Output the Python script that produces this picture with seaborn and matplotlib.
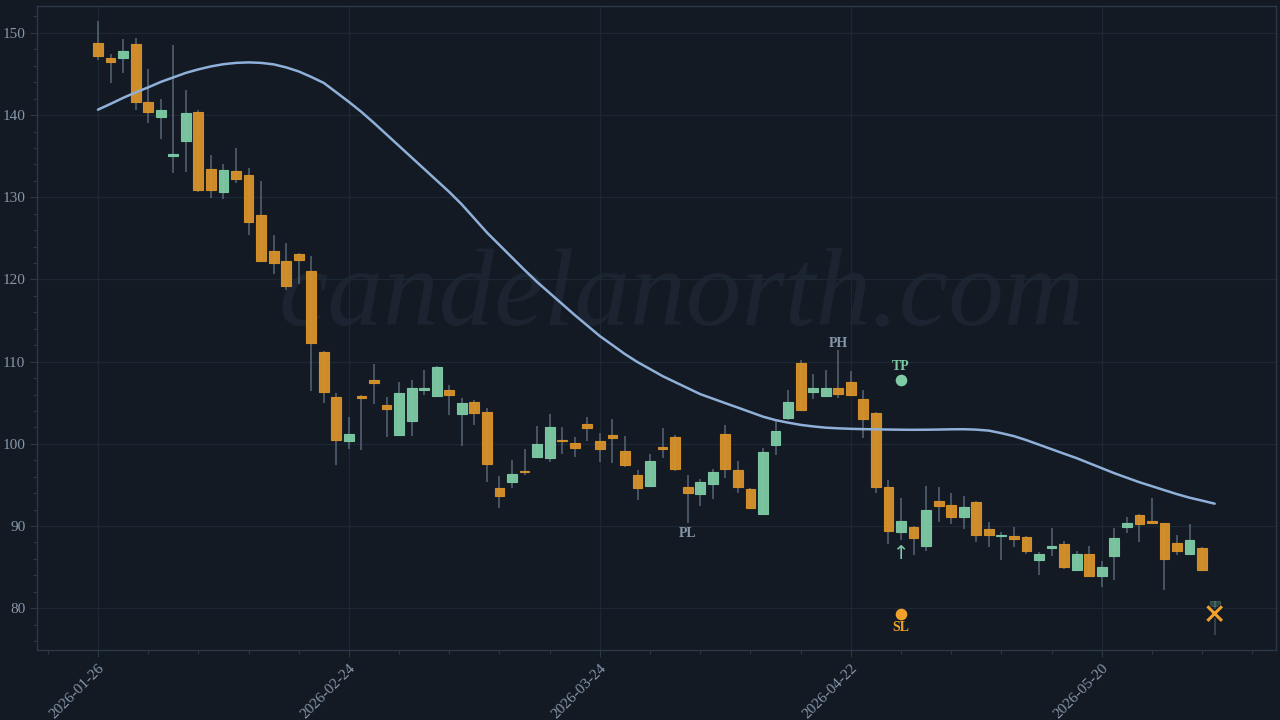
import numpy as np
import pandas as pd
import matplotlib
matplotlib.use("Agg")
import matplotlib.pyplot as plt
import matplotlib.patheffects as pe
import seaborn as sns
from matplotlib.ticker import MultipleLocator, FixedLocator

# candles, one per trading day (index 0 = 2026-01-26)
opens = [148.75, 147.0, 146.92, 148.66, 141.6, 139.81, 134.99, 136.89, 140.35, 133.44,
         130.68, 133.24, 132.75, 127.81, 123.5, 122.24, 123.13, 121.03, 111.13, 105.72,
         100.33, 105.81, 107.72, 104.68, 101.06, 102.73, 106.58, 105.81, 106.58, 103.65,
         105.08, 103.86, 94.57, 95.34, 96.68, 98.42, 98.22, 100.49, 100.12, 102.44,
         100.37, 101.1, 99.11, 96.27, 94.85, 99.56, 100.85, 94.69, 93.84, 95.09,
         101.15, 96.8, 94.52, 91.44, 99.84, 103.09, 109.79, 106.29, 105.77, 106.78,
         107.55, 105.41, 103.78, 94.76, 89.33, 89.9, 87.63, 93.02, 92.5, 91.08,
         92.94, 89.58, 88.8, 88.8, 88.64, 85.93, 87.3, 87.79, 84.71, 86.66,
         83.93, 86.36, 89.9, 91.4, 90.59, 90.31, 87.95, 86.66, 87.34, 80.28]
highs = [151.46, 147.41, 149.27, 149.43, 145.58, 141.96, 148.54, 143.06, 140.63, 135.15,
         134.05, 135.96, 133.53, 131.98, 125.41, 124.4, 123.2, 122.85, 111.3, 106.14,
         103.21, 105.93, 109.7, 105.69, 107.51, 107.76, 108.98, 109.5, 107.11, 105.53,
         105.32, 104.35, 96.07, 97.98, 99.35, 102.12, 103.62, 102.03, 100.82, 103.29,
         101.27, 103.0, 100.94, 96.8, 98.71, 101.88, 101.06, 96.19, 95.67, 96.92,
         102.24, 97.89, 94.6, 99.51, 102.89, 106.54, 110.19, 108.45, 108.98, 111.44,
         108.85, 106.54, 103.9, 95.58, 93.39, 89.98, 94.85, 94.76, 93.96, 93.63,
         93.0, 90.5, 89.29, 89.9, 88.75, 86.82, 89.82, 88.15, 86.97, 87.55,
         85.72, 89.82, 91.11, 91.5, 93.43, 90.4, 88.89, 90.22, 87.45, 80.9]
lows = [146.7, 143.88, 145.13, 140.63, 139.08, 137.1, 132.99, 133.04, 130.68, 129.88,
        129.79, 131.78, 125.41, 122.1, 120.7, 118.71, 119.48, 106.42, 104.92, 97.41,
        99.35, 99.23, 104.83, 100.78, 100.97, 100.97, 105.93, 105.72, 103.49, 99.76,
        102.31, 95.37, 92.21, 94.64, 96.22, 98.34, 97.81, 98.75, 98.34, 100.33,
        97.81, 97.69, 97.16, 93.15, 94.8, 98.22, 96.71, 90.38, 92.41, 93.35,
        95.79, 93.96, 92.1, 91.36, 98.62, 102.89, 104.0, 105.48, 105.7, 105.6,
        105.8, 100.73, 93.96, 87.79, 88.36, 86.45, 86.94, 90.47, 90.22, 89.7,
        88.0, 87.46, 85.84, 87.39, 86.66, 84.02, 86.33, 84.83, 84.62, 83.9,
        82.59, 83.41, 89.17, 88.07, 90.31, 82.19, 86.45, 86.45, 84.54, 76.7]
closes = [147.24, 146.47, 147.81, 141.56, 140.35, 140.59, 135.31, 140.22, 130.89, 130.89,
          133.32, 132.19, 126.99, 122.28, 122.0, 119.2, 122.4, 112.26, 106.33, 100.45,
          101.18, 105.53, 107.43, 104.26, 106.21, 106.74, 106.78, 109.37, 105.89, 104.96,
          103.78, 97.53, 93.6, 96.31, 96.52, 99.96, 102.07, 100.33, 99.44, 101.88,
          99.39, 100.73, 97.41, 94.64, 97.86, 99.32, 96.92, 94.08, 95.34, 96.52,
          97.0, 94.69, 92.17, 99.03, 101.51, 105.08, 104.07, 106.74, 106.78, 106.05,
          105.89, 103.04, 94.76, 89.37, 90.67, 88.52, 91.93, 92.45, 91.04, 92.33,
          88.85, 88.85, 88.97, 88.44, 86.97, 86.66, 87.55, 85.03, 86.66, 83.98,
          85.03, 88.52, 90.31, 90.22, 90.38, 86.0, 86.97, 88.36, 84.71, 80.85]

# smoothed trend line
trend = [140.66, 141.36, 142.09, 142.76, 143.37, 144.03, 144.58, 145.13, 145.56, 145.92,
         146.19, 146.35, 146.41, 146.35, 146.17, 145.8, 145.31, 144.64, 143.91, 142.76,
         141.6, 140.38, 139.04, 137.64, 136.24, 134.84, 133.44, 132.04, 130.64, 129.12,
         127.42, 125.71, 124.19, 122.67, 121.15, 119.69, 118.35, 117.01, 115.67, 114.39,
         113.11, 112.02, 110.92, 109.95, 109.1, 108.24, 107.51, 106.78, 106.05, 105.5,
         104.95, 104.41, 103.86, 103.31, 102.89, 102.58, 102.31, 102.12, 101.97, 101.89,
         101.83, 101.79, 101.77, 101.74, 101.72, 101.71, 101.72, 101.74, 101.77, 101.78,
         101.73, 101.61, 101.3, 100.94, 100.45, 99.9, 99.35, 98.8, 98.26, 97.65,
         97.04, 96.43, 95.88, 95.33, 94.85, 94.36, 93.88, 93.45, 93.09, 92.72]

tick_pos = [0, 20, 40, 60, 80]
tick_labels = ["2026-01-26", "2026-02-24", "2026-03-24", "2026-04-22", "2026-05-20"]

# trade markers
pivot_high_idx, pivot_low_idx = 59, 47
entry_idx, exit_idx = 64, 89
tp_price, sl_price = 107.76, 79.35

BG = "#131a24"
GRID = "#1c2934"
SPINE = "#2a3847"
TXT = "#8797aa"
UP = "#7ecba5"
DOWN = "#d8922a"
WICK = "#5d6d7e"
MARK = "#f0a12c"
LINE = "#8fb0d8"

sns.set_theme(style="dark", rc={
    "axes.facecolor": BG, "figure.facecolor": BG,
    "axes.edgecolor": SPINE, "grid.color": GRID,
    "xtick.color": SPINE, "ytick.color": SPINE,
    "xtick.labelcolor": TXT, "ytick.labelcolor": TXT,
})
plt.rcParams["font.family"] = ["Liberation Serif", "DejaVu Sans"]

df = pd.DataFrame({"open": opens, "high": highs, "low": lows, "close": closes, "trend": trend})
df["idx"] = np.arange(len(df))

fig = plt.figure(figsize=(12.8, 7.2), dpi=100)
ax = fig.add_axes([0.029, 0.097, 0.968, 0.895])

ax.text(0.52, 0.505, "candelanorth.com", transform=ax.transAxes, ha="center", va="baseline",
        fontsize=80, style="italic", color="#1b2430", zorder=0)

ax.grid(True, color=GRID, linewidth=0.9, zorder=0)

last = len(df) - 1
for i, r in df.iterrows():
    up = r["close"] >= r["open"]
    col = UP if up else DOWN
    a = 0.25 if i == last else 0.95
    ax.vlines(r["idx"], r["low"], r["high"], color=WICK, linewidth=1.1, alpha=0.9 if i != last else 0.6, zorder=2)
    lo, hi = min(r["open"], r["close"]), max(r["open"], r["close"])
    ax.bar(r["idx"], max(hi - lo, 0.12), bottom=lo, width=0.78, color=col, alpha=a,
           edgecolor=col, linewidth=0.8, zorder=3)

sns.lineplot(data=df, x="idx", y="trend", ax=ax, color=LINE, linewidth=1.8, zorder=4, legend=False)

# annotations
ax.text(pivot_high_idx, highs[pivot_high_idx] + 0.3, "PH", ha="center", va="baseline",
        color=TXT, fontsize=10, fontweight="bold")
ax.text(pivot_low_idx, lows[pivot_low_idx] - 0.5, "PL", ha="center", va="top",
        color=TXT, fontsize=10, fontweight="bold")
ax.scatter([entry_idx], [tp_price], s=70, color=UP, zorder=5, linewidths=0)
ax.text(entry_idx, tp_price + 0.9, "TP", ha="center", va="bottom", color=UP, fontsize=10, fontweight="bold")
ax.scatter([entry_idx], [sl_price], s=70, color=MARK, zorder=5, linewidths=0)
ax.text(entry_idx, sl_price - 0.9, "SL", ha="center", va="top", color=MARK, fontsize=10, fontweight="bold")
ax.text(entry_idx, lows[entry_idx] - 0.6, "\u2191", ha="center", va="top", color=UP, fontsize=14,
        family="DejaVu Sans")
ax.scatter([exit_idx], [sl_price], s=110, marker="x", color=MARK, linewidths=2.2, zorder=6,
           path_effects=[pe.withStroke(linewidth=4, foreground=BG)])

ax.set_xlim(-4.85, 93.9)
ax.set_ylim(74.9, 153.3)
ax.xaxis.set_major_locator(FixedLocator(tick_pos))
ax.xaxis.set_minor_locator(MultipleLocator(4))
ax.set_xticklabels(tick_labels, rotation=45, ha="right", rotation_mode="anchor")
ax.yaxis.set_major_locator(MultipleLocator(10))
ax.yaxis.set_minor_locator(MultipleLocator(2))
ax.tick_params(axis="both", which="major", length=5, width=0.8, labelsize=11, bottom=True, left=True)
ax.tick_params(axis="both", which="minor", length=3, width=0.8, bottom=True, left=True)
ax.set_xlabel("")
ax.set_ylabel("")
for s in ax.spines.values():
    s.set_color(SPINE)
    s.set_linewidth(1.0)

fig.savefig("out.png", dpi=100, facecolor=BG)
